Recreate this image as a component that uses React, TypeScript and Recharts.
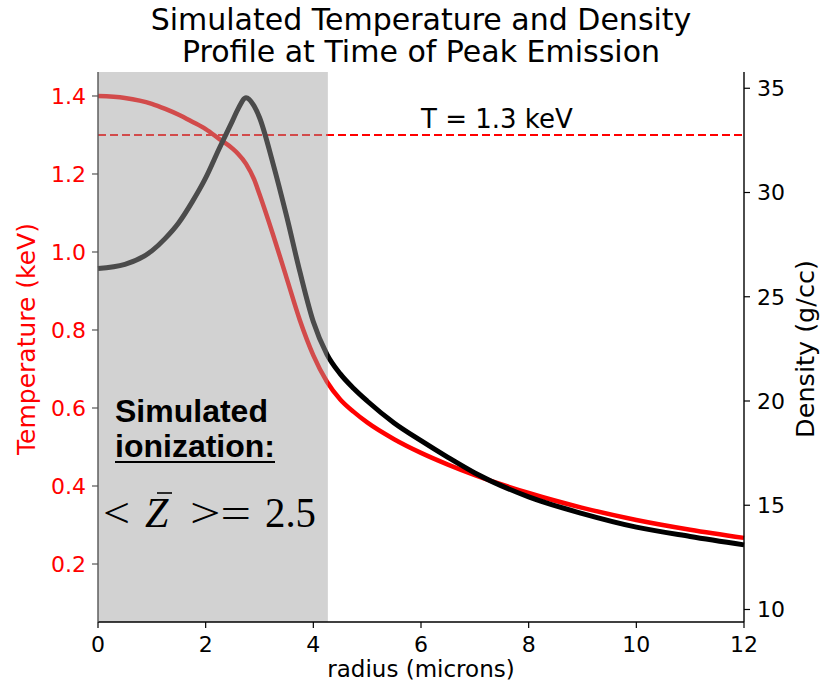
import React from 'react';
import { ComposedChart, Line, XAxis, YAxis, ReferenceArea, ReferenceLine } from 'recharts';

// radius (microns)
const radius = [0, 0.5, 1, 1.25, 1.5, 1.75, 2, 2.25, 2.5, 2.6, 2.75, 2.9, 3, 3.25, 3.5, 3.75, 4, 4.25, 4.5, 4.75, 5, 5.5, 6, 6.5, 7, 8, 9, 10, 11, 12];
// temperature (keV), left axis
const temperature = [1.4, 1.395, 1.38, 1.367, 1.352, 1.334, 1.315, 1.29, 1.265, 1.252, 1.226, 1.186, 1.148, 1.045, 0.935, 0.825, 0.735, 0.668, 0.622, 0.59, 0.563, 0.52, 0.485, 0.455, 0.428, 0.382, 0.344, 0.313, 0.288, 0.267];
// density (g/cc), right axis
const density = [26.35, 26.55, 27.2, 27.8, 28.55, 29.55, 30.7, 32.1, 33.45, 34.0, 34.55, 34.15, 33.6, 31.4, 28.9, 26.2, 23.8, 22.25, 21.3, 20.6, 20.0, 18.95, 18.1, 17.3, 16.55, 15.4, 14.6, 13.95, 13.5, 13.1];

const xTicks = [0, 2, 4, 6, 8, 10, 12];
const tempTicks = [0.2, 0.4, 0.6, 0.8, 1.0, 1.2, 1.4];
const densTicks = [10, 15, 20, 25, 30, 35];

const peakTemp = 1.3;
const shadedRange = [0, 4.27];

const data = radius.map((r, i) => ({ r, t: temperature[i], d: density[i] }));

const FONT = 'DejaVu Sans, sans-serif';
const W = 831;
const H = 685;

export default function App() {
  return (
    <div style={{ position: 'absolute', left: 0, top: 0, width: W, height: H, background: '#fff' }}>
      <ComposedChart width={W} height={H} data={data} margin={{ top: 72, right: 0, bottom: 0, left: 0 }}>
        <XAxis
          xAxisId="b"
          dataKey="r"
          type="number"
          domain={[0, 12]}
          ticks={xTicks}
          height={63}
          stroke="#000"
          tickSize={6}
          tickMargin={8}
          tick={{ fill: '#000', fontSize: 22, fontFamily: FONT }}
          tickLine={{ stroke: '#000', strokeWidth: 1.2 }}
          axisLine={{ stroke: '#000', strokeWidth: 1.4 }}
        />
        <XAxis
          xAxisId="top"
          orientation="top"
          dataKey="r"
          type="number"
          domain={[0, 12]}
          height={0}
          tick={false}
          tickLine={false}
          axisLine={{ stroke: '#000', strokeWidth: 1.4 }}
        />
        <YAxis
          yAxisId="left"
          type="number"
          domain={[0.0513, 1.4615]}
          ticks={tempTicks}
          width={98}
          tickSize={6}
          tickMargin={6}
          tickFormatter={(v: number) => v.toFixed(1)}
          tick={{ fill: '#ff0000', fontSize: 22, fontFamily: FONT }}
          tickLine={{ stroke: '#555', strokeWidth: 1.2 }}
          axisLine={{ stroke: '#555', strokeWidth: 1.4 }}
        />
        <YAxis
          yAxisId="right"
          orientation="right"
          type="number"
          domain={[9.4, 35.78]}
          ticks={densTicks}
          width={87}
          tickSize={6}
          tickMargin={7}
          tick={{ fill: '#000', fontSize: 22, fontFamily: FONT }}
          tickLine={{ stroke: '#000', strokeWidth: 1.2 }}
          axisLine={{ stroke: '#000', strokeWidth: 1.4 }}
        />
        <ReferenceLine
          xAxisId="b"
          yAxisId="left"
          y={peakTemp}
          stroke="#ff0000"
          strokeWidth={2}
          strokeDasharray="8 4"
        />
        <Line
          xAxisId="b"
          yAxisId="left"
          dataKey="t"
          type="monotone"
          stroke="#ff0000"
          strokeWidth={4.5}
          dot={false}
          activeDot={false}
          isAnimationActive={false}
        />
        <Line
          xAxisId="b"
          yAxisId="right"
          dataKey="d"
          type="monotone"
          stroke="#000"
          strokeWidth={5}
          dot={false}
          activeDot={false}
          isAnimationActive={false}
        />
        <ReferenceArea
          xAxisId="b"
          yAxisId="left"
          x1={shadedRange[0]}
          x2={shadedRange[1]}
          fill="#a0a0a0"
          fillOpacity={0.47}
          stroke="none"
          zIndex={450}
        />
      </ComposedChart>
      <svg width={W} height={H} style={{ position: 'absolute', left: 0, top: 0, pointerEvents: 'none' }}>
        <text x={421} y={30} textAnchor="middle" fontSize={30} fontFamily={FONT} fill="#000">
          Simulated Temperature and Density
        </text>
        <text x={421} y={62} textAnchor="middle" fontSize={30} fontFamily={FONT} fill="#000">
          Profile at Time of Peak Emission
        </text>
        <text x={421} y={128} fontSize={26} fontFamily={FONT} fill="#000">
          T = 1.3 keV
        </text>
        <text x={421} y={677} textAnchor="middle" fontSize={23} fontFamily={FONT} fill="#000">
          radius (microns)
        </text>
        <text transform="translate(35,339) rotate(-90)" textAnchor="middle" fontSize={25} fontFamily={FONT} fill="#ff0000">
          Temperature (keV)
        </text>
        <text transform="translate(814,349) rotate(-90)" textAnchor="middle" fontSize={25.5} fontFamily={FONT} fill="#000">
          Density (g/cc)
        </text>
        <text x={115} y={422} fontSize={32} fontWeight="bold" fontFamily="Liberation Sans, Arial, sans-serif" fill="#000">
          Simulated
        </text>
        <text x={115} y={457} fontSize={32} fontWeight="bold" fontFamily="Liberation Sans, Arial, sans-serif" fill="#000">
          ionization:
        </text>
        <line x1={115} x2={275} y1={462} y2={462} stroke="#000" strokeWidth={2.2} />
        <g fontFamily="Liberation Serif, serif" fontSize={42} fill="#000">
          <text x={103} y={527} textLength={27} lengthAdjust="spacingAndGlyphs">{'<'}</text>
          <text x={145} y={527} fontStyle="italic">Z</text>
          <text x={190} y={527} textLength={61} lengthAdjust="spacingAndGlyphs">{'>='}</text>
          <text x={265} y={527} textLength={51} lengthAdjust="spacingAndGlyphs">2.5</text>
        </g>
        <line x1={157} x2={172} y1={493} y2={493} stroke="#000" strokeWidth={1.6} />
      </svg>
    </div>
  );
}
